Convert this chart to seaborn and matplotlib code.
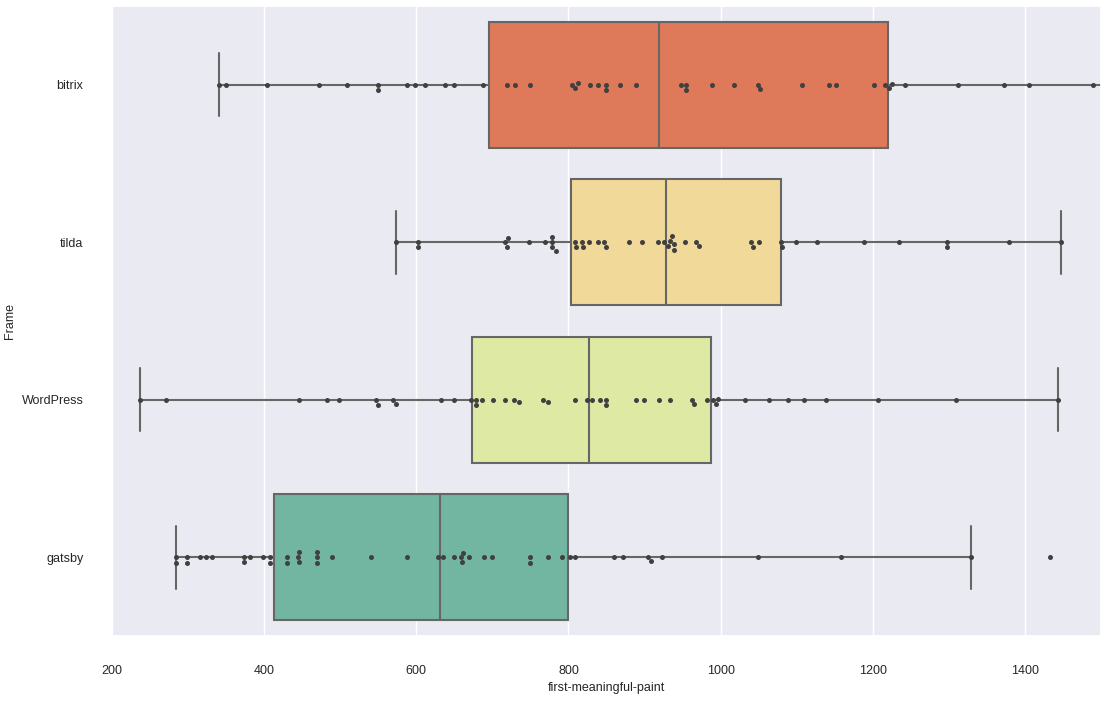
import numpy as np
import pandas as pd
import seaborn as sns
import matplotlib.pyplot as plt

frames = ["bitrix", "tilda", "WordPress", "gatsby"]

bitrix = [340, 350, 404, 472, 509, 549, 549, 588, 598, 611, 638, 649, 688, 719, 730,
          750, 804, 809, 812, 828, 839, 849, 849, 868, 889, 948, 955, 955, 989, 1017,
          1049, 1052, 1107, 1143, 1152, 1201, 1216, 1221, 1225, 1243, 1312, 1372, 1406,
          1490, 1530, 1590, 1650, 1720, 1800, 1890]

tilda = [573, 602, 602, 717, 719, 721, 748, 769, 779, 779, 779, 784, 809, 810, 818, 819,
         827, 839, 847, 849, 879, 897, 918, 926, 931, 934, 936, 939, 939, 953, 967, 971,
         1040, 1042, 1050, 1079, 1081, 1099, 1127, 1189, 1235, 1298, 1298, 1379, 1447,
         1560, 1700, 1900]

wordpress = [237, 271, 446, 483, 499, 547, 549, 570, 573, 633, 649, 672, 679, 679, 686,
             701, 717, 729, 735, 767, 773, 809, 824, 831, 842, 849, 849, 889, 899, 919,
             933, 962, 965, 982, 990, 994, 997, 1032, 1064, 1089, 1110, 1138, 1207, 1309,
             1444, 1620]

gatsby = [284, 284, 299, 299, 316, 323, 331, 373, 374, 381, 399, 408, 408, 430, 430, 444,
          446, 446, 469, 469, 469, 489, 541, 588, 628, 635, 649, 659, 660, 662, 669, 689,
          699, 749, 749, 773, 792, 802, 809, 860, 872, 905, 909, 923, 1049, 1158, 1329,
          1433, 1580, 1760]

series = {"bitrix": bitrix, "tilda": tilda, "WordPress": wordpress, "gatsby": gatsby}
df = pd.DataFrame(
    [(k, v) for k in frames for v in series[k]],
    columns=["Frame", "first-meaningful-paint"],
)

sns.set_theme(style="darkgrid")
plt.rcParams["font.family"] = ["Liberation Sans", "DejaVu Sans"]

fig = plt.figure(figsize=(11.01, 7.01), dpi=100)
ax = fig.add_axes([112 / 1101, (701 - 636) / 701, 1 - 112 / 1101, 630 / 701])

sns.boxplot(data=df, x="first-meaningful-paint", y="Frame", hue="Frame", order=frames,
            hue_order=frames, palette="Spectral", legend=False, showfliers=False,
            linecolor="#666666", linewidth=1.5, ax=ax)
sns.swarmplot(data=df, x="first-meaningful-paint", y="Frame", order=frames,
              color=".25", size=3.6, ax=ax)

ax.set_xlim(200, 1500)
ax.grid(axis="y", visible=False)
ax.tick_params(axis="x", labelsize=9, pad=14.7)
ax.tick_params(axis="y", labelsize=9, pad=14.5)
ax.set_xlabel("first-meaningful-paint", fontsize=9)
ax.set_ylabel("Frame", fontsize=9, labelpad=4)

fig.savefig("out.png", dpi=100)
